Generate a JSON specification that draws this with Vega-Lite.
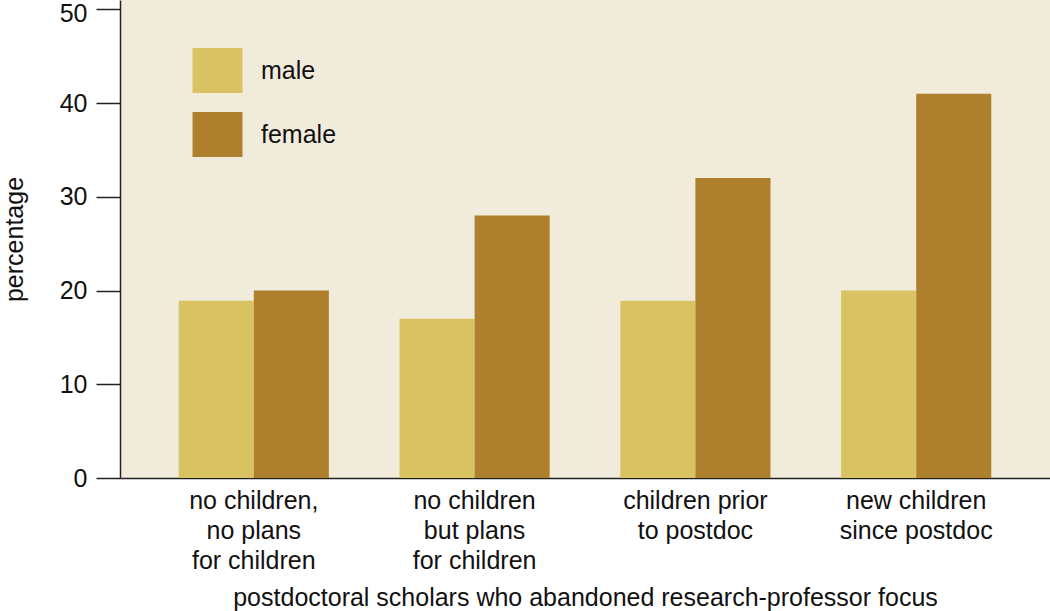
{
  "$schema": "https://vega.github.io/schema/vega-lite/v6.json",
  "width": 930,
  "height": 478,
  "autosize": {"type": "none"},
  "padding": {"left": 120, "top": 0, "right": 0, "bottom": 133},
  "background": "#ffffff",
  "config": {
    "view": {"fill": "#f1ebdb", "stroke": null},
    "font": "Liberation Sans"
  },
  "data": {
    "values": [
      {"group": "no children,|no plans|for children", "sex": "male", "pct": 18.9},
      {"group": "no children,|no plans|for children", "sex": "female", "pct": 20},
      {"group": "no children|but plans|for children", "sex": "male", "pct": 17},
      {"group": "no children|but plans|for children", "sex": "female", "pct": 28},
      {"group": "children prior|to postdoc", "sex": "male", "pct": 18.9},
      {"group": "children prior|to postdoc", "sex": "female", "pct": 32},
      {"group": "new children|since postdoc", "sex": "male", "pct": 20},
      {"group": "new children|since postdoc", "sex": "female", "pct": 41}
    ]
  },
  "mark": {"type": "bar", "strokeWidth": 0},
  "encoding": {
    "x": {
      "field": "group",
      "type": "nominal",
      "sort": null,
      "scale": {"paddingInner": 0.32, "paddingOuter": 0.266},
      "axis": {
        "title": "postdoctoral scholars who abandoned research-professor focus",
        "titleFont": "Liberation Sans",
        "titleFontSize": 25,
        "titleFontWeight": "normal",
        "titleColor": "#111111",
        "titlePadding": 12,
        "labelExpr": "split(datum.label, '|')",
        "labelAngle": 0,
        "labelFontSize": 25,
        "labelLineHeight": 30,
        "labelColor": "#111111",
        "labelPadding": 10,
        "ticks": false,
        "domainColor": "#222222",
        "domainWidth": 1.5
      }
    },
    "xOffset": {
      "field": "sex",
      "type": "nominal",
      "sort": ["male", "female"],
      "scale": {"paddingInner": 0, "paddingOuter": 0}
    },
    "y": {
      "field": "pct",
      "type": "quantitative",
      "scale": {"domain": [0, 51], "nice": false, "zero": true},
      "axis": {
        "title": "percentage",
        "titleFont": "Liberation Sans",
        "titleFontSize": 25,
        "titleFontWeight": "normal",
        "titleColor": "#111111",
        "titlePadding": 32,
        "values": [0, 10, 20, 30, 40, 50],
        "grid": false,
        "labelFontSize": 25,
        "labelColor": "#111111",
        "labelPadding": 9,
        "labelOffset": {"condition": {"test": "datum.value == 50", "value": 4.5}, "value": 0},
        "tickSize": 24,
        "tickColor": "#222222",
        "tickWidth": 1.5,
        "domainColor": "#222222",
        "domainWidth": 1.5
      }
    },
    "color": {
      "field": "sex",
      "type": "nominal",
      "sort": ["male", "female"],
      "scale": {"domain": ["male", "female"], "range": ["#d9c262", "#ae7f2d"]},
      "legend": {
        "title": null,
        "orient": "none",
        "legendX": 75,
        "legendY": 48,
        "padding": 0,
        "symbolType": "M-1.11,-1L1.11,-1L1.11,1L-1.11,1Z",
        "symbolSize": 2025,
        "symbolStrokeWidth": 0,
        "symbolOpacity": 1,
        "rowPadding": 19,
        "labelFontSize": 25,
        "labelColor": "#111111",
        "labelOffset": 21
      }
    }
  }
}
